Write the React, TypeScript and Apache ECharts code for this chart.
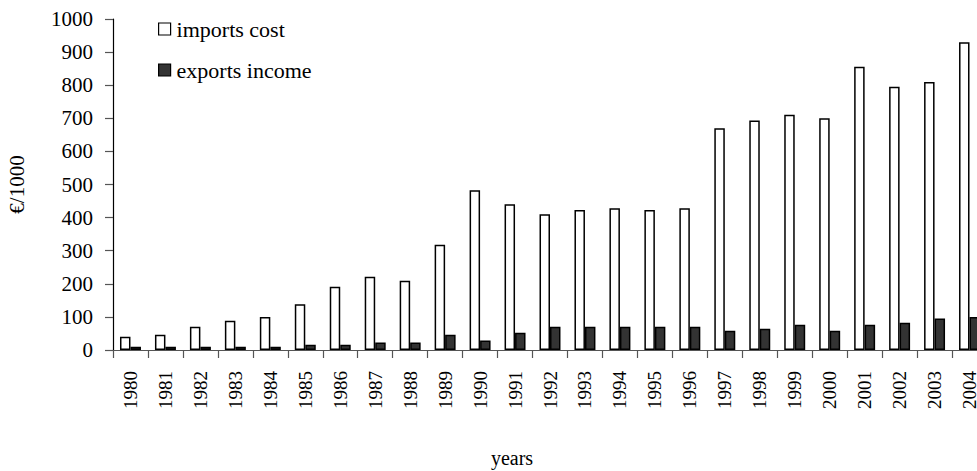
import React, { useEffect, useRef } from "react";
import * as echarts from "echarts";

const years = ["1980","1981","1982","1983","1984","1985","1986","1987","1988","1989","1990","1991","1992","1993","1994","1995","1996","1997","1998","1999","2000","2001","2002","2003","2004"];
const importsCost = [40, 46, 70, 88, 100, 138, 191, 221, 209, 318, 483, 440, 410, 423, 428, 423, 428, 670, 693, 711, 700, 856, 795, 810, 930];
const exportsIncome = [10, 10, 10, 10, 10, 16, 16, 23, 23, 46, 29, 52, 70, 70, 70, 70, 70, 58, 64, 76, 58, 76, 82, 95, 100];

const FONT = "'Liberation Serif', 'Times New Roman', serif";

export default function App() {
  const ref = useRef<HTMLDivElement>(null);
  useEffect(() => {
    if (!ref.current) return;
    const chart = echarts.init(ref.current, undefined, { renderer: "svg" });
    chart.setOption({
      animation: false,
      backgroundColor: "#fff",
      textStyle: { fontFamily: FONT, color: "#000" },
      legend: {
        orient: "vertical",
        left: 153,
        top: 13,
        itemWidth: 12,
        itemHeight: 12,
        itemGap: 19,
        icon: "rect",
        textStyle: { fontFamily: FONT, fontSize: 22, color: "#000", padding: [0, 0, 0, 1] },
        data: [
          { name: "imports cost", itemStyle: { color: "#fff", borderColor: "#000", borderWidth: 1.2 } },
          { name: "exports income", itemStyle: { color: "#333", borderColor: "#000", borderWidth: 1.2 } },
        ],
      },
      grid: { left: 113, top: 19, bottom: 121, right: -10, containLabel: false, outerBoundsMode: "none" },
      xAxis: {
        type: "category",
        data: years,
        name: "years",
        nameLocation: "middle",
        nameGap: 98,
        nameTextStyle: { fontFamily: FONT, fontSize: 20, color: "#000", padding: [0, 76, 0, 0] },
        axisLine: { lineStyle: { color: "#555", width: 1.2 } },
        axisTick: { show: true, length: 8, lineStyle: { color: "#555", width: 1.2 } },
        axisLabel: { rotate: 90, fontFamily: FONT, fontSize: 19, color: "#000", margin: 21, interval: 0, hideOverlap: false },
      },
      yAxis: {
        type: "value",
        min: 0,
        max: 1000,
        interval: 100,
        name: "€/1000",
        nameLocation: "middle",
        nameRotate: 90,
        nameGap: 86,
        nameTextStyle: { fontFamily: FONT, fontSize: 21, color: "#000" },
        splitLine: { show: false },
        axisLine: { show: true, lineStyle: { color: "#000", width: 1.2 } },
        axisTick: { show: true, length: 8, lineStyle: { color: "#555", width: 1.2 } },
        axisLabel: { fontFamily: FONT, fontSize: 21, color: "#000", margin: 20, formatter: (v: number) => String(v) },
      },
      series: [
        {
          name: "imports cost",
          type: "bar",
          data: importsCost,
          barGap: "0%",
          barCategoryGap: "40%",
          itemStyle: { color: "#fff", borderColor: "#000", borderWidth: 1.5 },
        },
        {
          name: "exports income",
          type: "bar",
          data: exportsIncome,
          barGap: "0%",
          barCategoryGap: "40%",
          itemStyle: { color: "#333", borderColor: "#000", borderWidth: 1.5 },
        },
      ],
    });
    return () => chart.dispose();
  }, []);
  return (
    <div
      ref={ref}
      style={{ position: "fixed", left: 0, top: 0, width: 977, height: 471, background: "#fff" }}
    />
  );
}
